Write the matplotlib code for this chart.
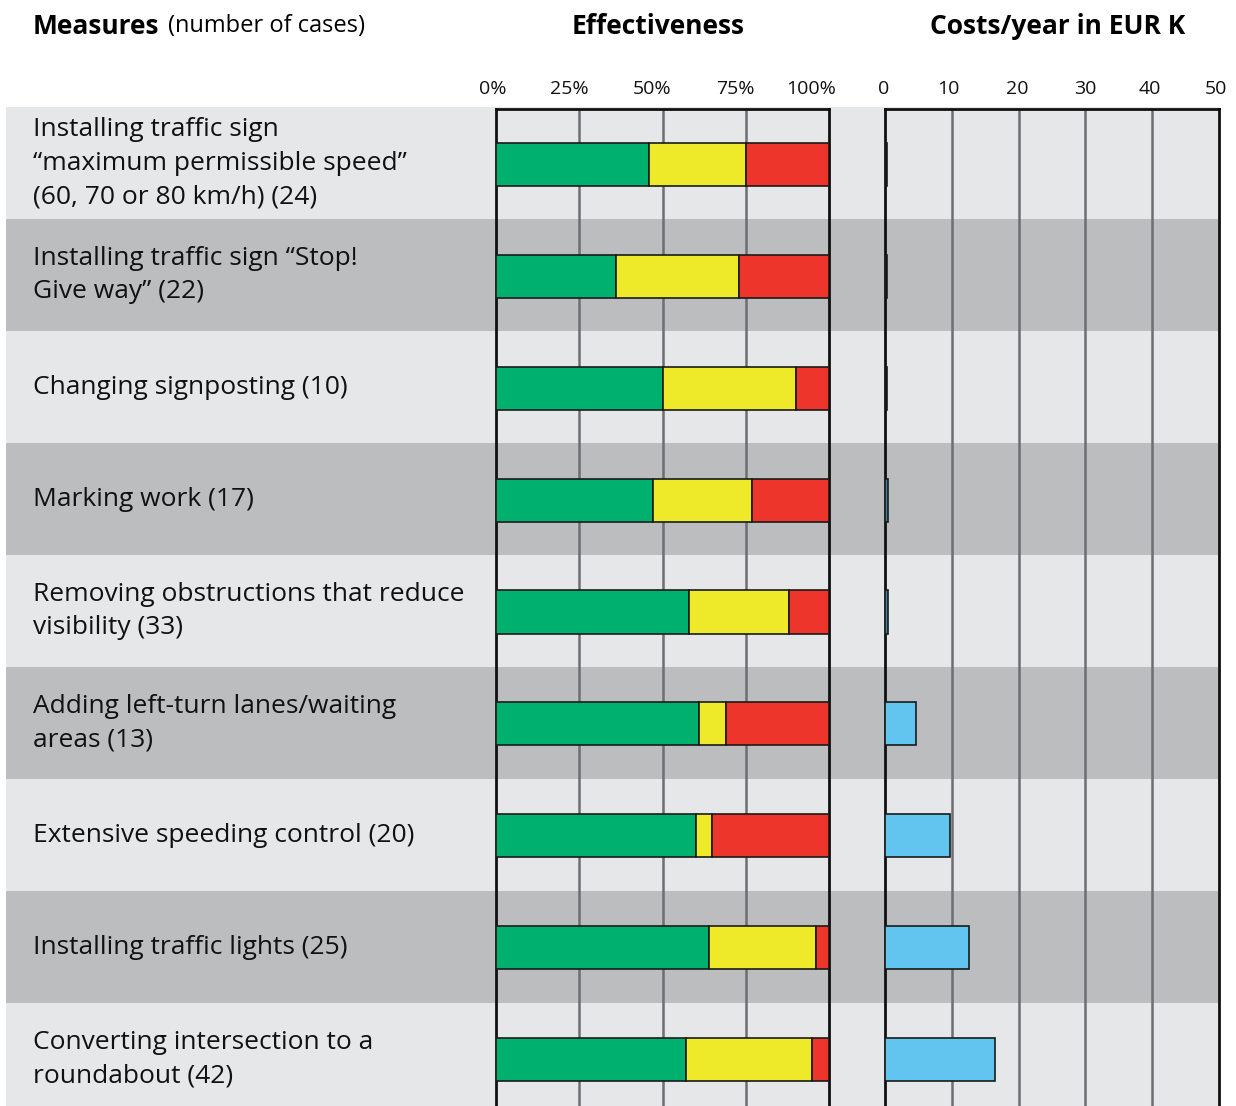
import matplotlib
matplotlib.use('Agg')
import matplotlib.pyplot as plt
import matplotlib.transforms as mtransforms

W, H = 1236, 1106
plt.rcParams['font.family'] = ['Open Sans', 'DejaVu Sans']

measures = [
    "Installing traffic sign\n\u201cmaximum permissible speed\u201d\n(60, 70 or 80 km/h) (24)",
    "Installing traffic sign \u201cStop!\nGive way\u201d (22)",
    "Changing signposting (10)",
    "Marking work (17)",
    "Removing obstructions that reduce\nvisibility (33)",
    "Adding left-turn lanes/waiting\nareas (13)",
    "Extensive speeding control (20)",
    "Installing traffic lights (25)",
    "Converting intersection to a\nroundabout (42)",
]
green = [46, 36, 50, 47, 58, 61, 60, 64, 57]
yellow = [29, 37, 40, 30, 30, 8, 5, 32, 38]
red = [25, 27, 10, 23, 12, 31, 35, 4, 5]
costs = [0.3, 0.3, 0.3, 0.4, 0.4, 4.6, 9.8, 12.5, 16.4]

eff_ticks = [0, 25, 50, 75, 100]
eff_labels = ['0%', '25%', '50%', '75%', '100%']
cost_ticks = [0, 10, 20, 30, 40, 50]

c_green, c_yellow, c_red, c_blue = '#00b06f', '#eeea2a', '#ee352b', '#62c5ef'
c_light, c_dark, c_grid = '#e6e7e9', '#bcbdbf', '#6d6e71'

fig = plt.figure(figsize=(W / 100, H / 100), dpi=100)

def px_axes(x0, x1, y0, y1):
    return fig.add_axes([x0 / W, 1 - y1 / H, (x1 - x0) / W, (y1 - y0) / H])

row_h = 112.0
top, bottom = 107, 1106
ylim = (-0.5 + (bottom - top) / row_h, -0.5)
n = len(measures)

# background bands + labels
bg = px_axes(6, 1219, top, bottom)
bg.set_xlim(0, 1)
bg.set_ylim(*ylim)
bg.axis('off')
for i in range(n):
    bg.axhspan(i - 0.5, i + 0.5, color=c_light if i % 2 == 0 else c_dark, lw=0)
trans = mtransforms.blended_transform_factory(bg.transAxes, bg.transData)
for i, lab in enumerate(measures):
    bg.text((33 - 6) / 1213, i, lab, transform=trans, va='center', ha='left',
            fontsize=19, linespacing=1.45, color='#111111')

# effectiveness
ax1 = px_axes(496, 829, top + 2, bottom)
ax1.set_facecolor('none')
ax1.set_ylim(*ylim)
ax1.set_xlim(0, 100)
ys = list(range(n))
bh = 0.385
left = [0] * n
for vals, col in [(green, c_green), (yellow, c_yellow), (red, c_red)]:
    ax1.barh(ys, vals, left=left, height=bh, color=col, edgecolor='#1a1a1a', lw=1.2, zorder=3)
    left = [a + b for a, b in zip(left, vals)]
for t in eff_ticks[1:-1]:
    ax1.axvline(t, color=c_grid, lw=1.8, zorder=1)
ax1.set_xticks(eff_ticks)
ax1.set_xticklabels(eff_labels)
ax1.set_yticks([])

# costs
ax2 = px_axes(885, 1219, top + 2, bottom)
ax2.set_facecolor('none')
ax2.set_ylim(*ylim)
ax2.set_xlim(0, 50)
bars = ax2.barh(ys, costs, height=bh, color=c_blue, edgecolor='#1a1a1a', lw=1.2, zorder=3)
for b in bars[:3]:
    b.set_facecolor('#111111')
for b in bars[3:5]:
    b.set_facecolor('#3a87a8')
for t in cost_ticks[1:-1]:
    ax2.axvline(t, color=c_grid, lw=1.8, zorder=1)
ax2.set_xticks(cost_ticks)
ax2.set_yticks([])

for ax in (ax1, ax2):
    ax.xaxis.tick_top()
    ax.tick_params(axis='x', length=0, pad=8, labelsize=14, colors='#111111')
    for s in ax.spines.values():
        s.set_linewidth(2)
        s.set_color('#111111')
        s.set_zorder(2)
    ax.spines['bottom'].set_visible(False)

# effectiveness tick labels sit a little left of their ticks
shifts = [-3, -10, -10, -10, -18]
for lab, dx in zip(ax1.get_xticklabels(), shifts):
    lab.set_transform(lab.get_transform() + mtransforms.ScaledTranslation(dx / 100, 0, fig.dpi_scale_trans))
for lab, dx in zip(ax2.get_xticklabels(), [-1, -3, -1, 0, -2, -3]):
    lab.set_transform(lab.get_transform() + mtransforms.ScaledTranslation(dx / 100, 0, fig.dpi_scale_trans))

# headers
hy = 1 - 26 / H
t1 = fig.text(33 / W, hy, 'Measures', fontsize=19, fontweight='bold', va='center', ha='left')
fig.canvas.draw()
bb = t1.get_window_extent()
fig.text((bb.x1 + 9) / W, hy, '(number of cases)', fontsize=17, va='center', ha='left')
fig.text(658 / W, hy, 'Effectiveness', fontsize=19, fontweight='bold', va='center', ha='center')
fig.text(1058 / W, hy, 'Costs/year in EUR K', fontsize=19, fontweight='bold', va='center', ha='center')

fig.savefig('out.png', dpi=100)
